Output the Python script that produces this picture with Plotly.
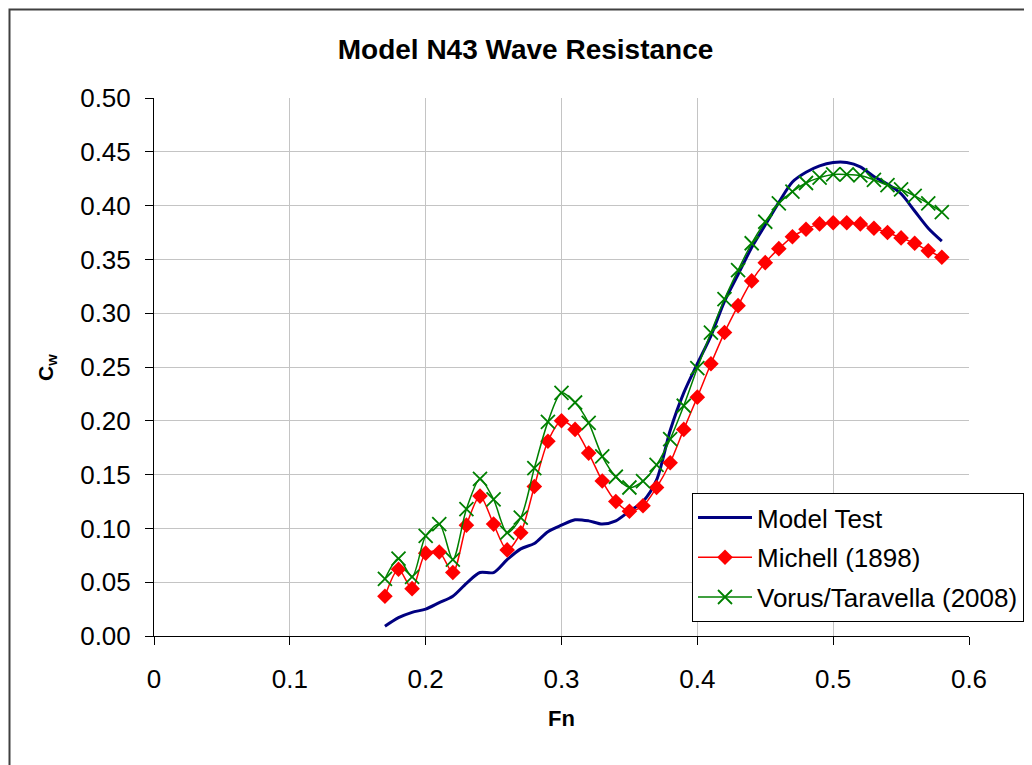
import plotly.graph_objects as go

fn = [0.17, 0.18, 0.19, 0.20, 0.21, 0.22, 0.23, 0.24, 0.25, 0.26, 0.27, 0.28, 0.29, 0.30,
      0.31, 0.32, 0.33, 0.34, 0.35, 0.36, 0.37, 0.38, 0.39, 0.40, 0.41, 0.42, 0.43, 0.44,
      0.45, 0.46, 0.47, 0.48, 0.49, 0.50, 0.51, 0.52, 0.53, 0.54, 0.55, 0.56, 0.57, 0.58]

model_test = [0.009, 0.017, 0.022, 0.025, 0.031, 0.037, 0.049, 0.059, 0.059, 0.071, 0.081,
              0.086, 0.097, 0.103, 0.108, 0.107, 0.104, 0.107, 0.116, 0.125, 0.145, 0.191,
              0.226, 0.253, 0.279, 0.311, 0.336, 0.361, 0.382, 0.403, 0.422, 0.431, 0.437,
              0.440, 0.440, 0.436, 0.427, 0.420, 0.411, 0.395, 0.379, 0.367]

michell = [0.037, 0.062, 0.044, 0.077, 0.078, 0.059, 0.103, 0.130, 0.104, 0.080, 0.096,
           0.139, 0.181, 0.200, 0.192, 0.170, 0.144, 0.125, 0.116, 0.121, 0.138, 0.161,
           0.192, 0.222, 0.253, 0.282, 0.307, 0.330, 0.347, 0.360, 0.371, 0.378, 0.383,
           0.384, 0.384, 0.383, 0.379, 0.375, 0.370, 0.365, 0.358, 0.352]

vorus = [0.053, 0.072, 0.055, 0.093, 0.104, 0.071, 0.118, 0.146, 0.127, 0.096, 0.110,
         0.156, 0.199, 0.226, 0.217, 0.198, 0.167, 0.148, 0.138, 0.144, 0.159, 0.183,
         0.214, 0.249, 0.282, 0.313, 0.340, 0.365, 0.385, 0.402, 0.413, 0.421, 0.426,
         0.429, 0.429, 0.428, 0.424, 0.419, 0.415, 0.409, 0.402, 0.394]

y_ticks = [0.00, 0.05, 0.10, 0.15, 0.20, 0.25, 0.30, 0.35, 0.40, 0.45, 0.50]
x_ticks = [0, 0.1, 0.2, 0.3, 0.4, 0.5, 0.6]

FONT = "Liberation Sans, Arial, sans-serif"
OFF = 8  # page body margin

ML, MT = 154 - OFF, 98 - OFF
PW, PH = 815, 538

fig = go.Figure()
fig.add_trace(go.Scatter(
    x=fn, y=model_test, name="Model Test", mode="lines",
    line=dict(color="#000080", width=3, shape="spline", smoothing=0.8),
    legendgroup="a"))
fig.add_trace(go.Scatter(
    x=fn, y=michell, name="Michell (1898)", mode="lines+markers",
    line=dict(color="#ff0000", width=1.5, shape="spline", smoothing=0.8),
    marker=dict(symbol="diamond", size=12, color="#ff0000"),
    legendgroup="b"))
fig.add_trace(go.Scatter(
    x=fn, y=vorus, name="Vorus/Taravella (2008)", mode="lines+markers",
    line=dict(color="#008000", width=1.5, shape="spline", smoothing=0.8),
    marker=dict(symbol="x-thin-open", size=14, color="#008000",
                line=dict(color="#008000", width=1.8)),
    legendgroup="c"))

fig.update_layout(
    width=1032, height=765,
    margin=dict(l=ML, r=1032 - ML - PW, t=MT, b=765 - MT - PH),
    paper_bgcolor="white", plot_bgcolor="white",
    font=dict(family=FONT, color="black", size=26),
    title=dict(text="<b>Model N43 Wave Resistance</b>", x=(525.5 - OFF) / 1032,
               xanchor="center", y=1 - (49 - OFF) / 765, yanchor="middle",
               font=dict(size=28, family=FONT)),
    showlegend=True,
    legend=dict(x=(692 - 154) / PW, y=(636 - 493) / PH, xanchor="left", yanchor="top",
                bgcolor="white", bordercolor="black", borderwidth=1,
                font=dict(size=26, family=FONT), traceorder="grouped",
                tracegroupgap=3, itemwidth=54),
    xaxis=dict(range=[0, 0.6], tickvals=x_ticks, ticktext=[str(v) for v in x_ticks],
               showgrid=True, gridcolor="#c4c4c4", gridwidth=1,
               zeroline=False, showline=True, linecolor="black", linewidth=1,
               ticks="outside", ticklen=8, tickcolor="black", ticklabelstandoff=12,
               tickfont=dict(size=26, family=FONT)),
    yaxis=dict(range=[0, 0.5], tickvals=y_ticks, ticktext=[f"{v:.2f}" for v in y_ticks],
               showgrid=True, gridcolor="#c4c4c4", gridwidth=1,
               zeroline=False, showline=True, linecolor="black", linewidth=1,
               ticks="outside", ticklen=8, tickcolor="black", ticklabelstandoff=9,
               tickfont=dict(size=26, family=FONT)),
)

# axis titles
fig.add_annotation(text="<b>Fn</b>", xref="paper", yref="paper",
                   x=0.5, y=(636 - 719) / PH, xanchor="center", yanchor="middle",
                   showarrow=False, font=dict(size=22, family=FONT))
fig.add_annotation(text="<b>C<sub>w</sub></b>", xref="paper", yref="paper",
                   x=(47 - 154) / PW, y=(636 - 368) / PH, xanchor="center", yanchor="middle",
                   textangle=-90, showarrow=False, font=dict(size=21, family=FONT))

# outer chart-area border (at the figure's left/top edge)
fig.add_shape(type="rect", xref="paper", yref="paper",
              x0=-(ML - 1.5) / PW, x1=1.3, y0=-0.4, y1=1 + (MT - 1.5) / PH,
              line=dict(color="#404040", width=2), layer="above")

fig.write_html("out.html")
